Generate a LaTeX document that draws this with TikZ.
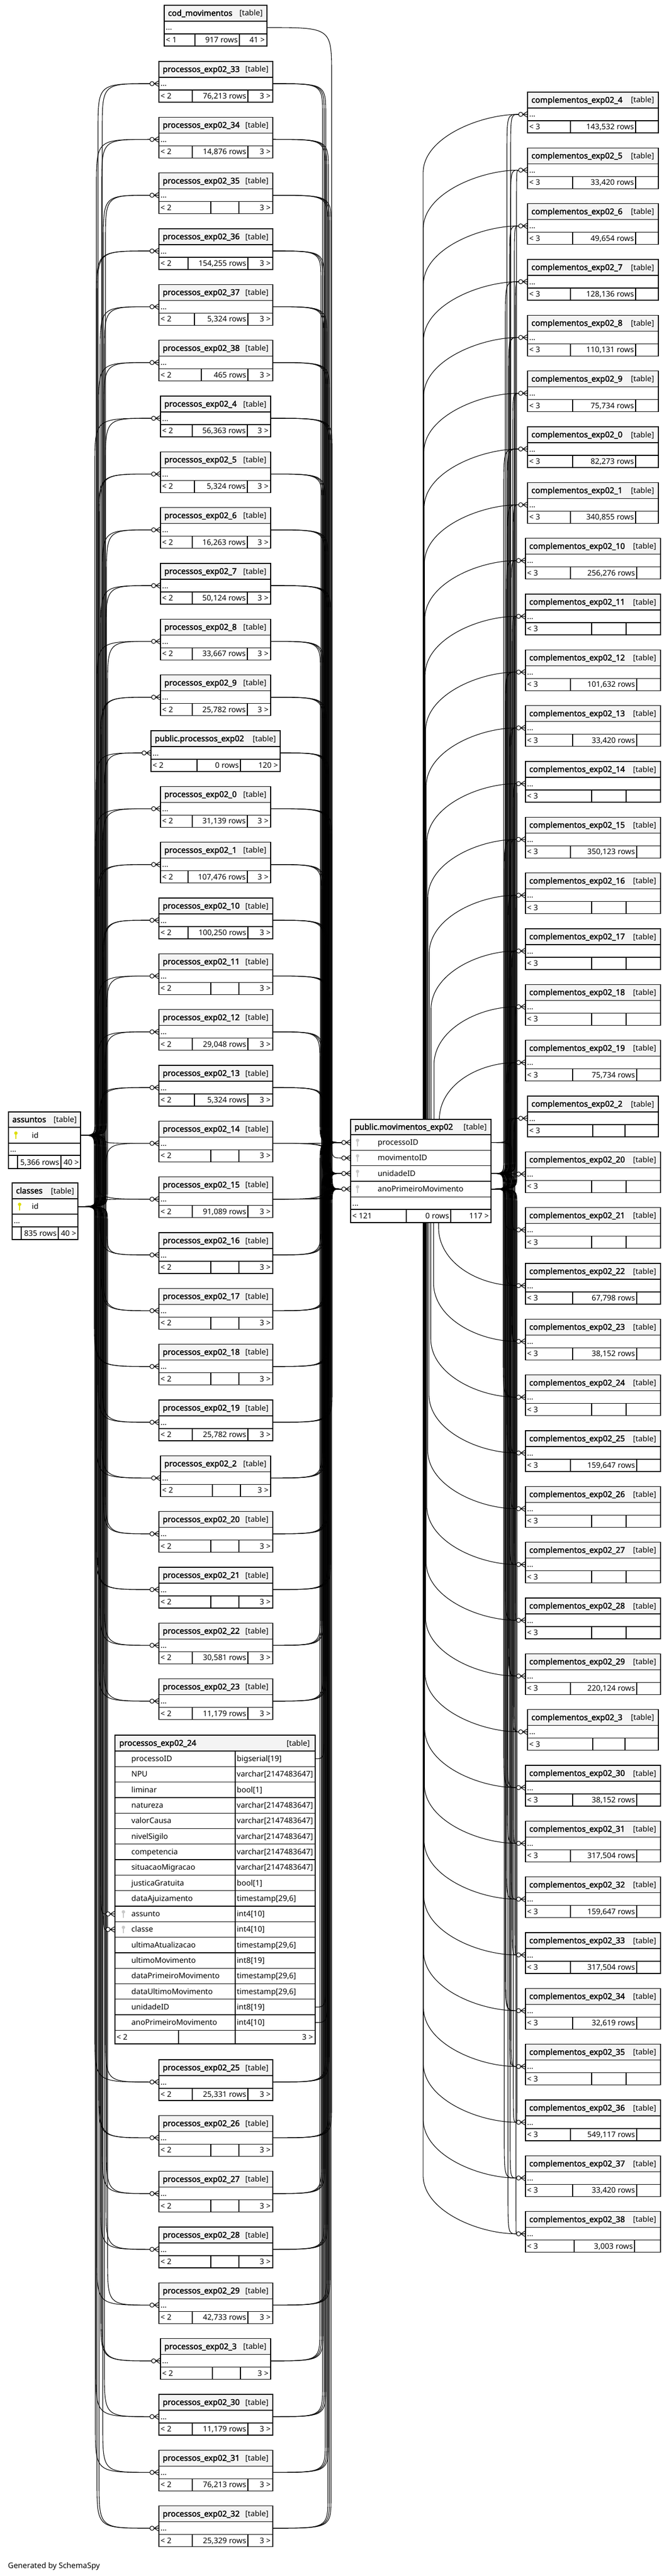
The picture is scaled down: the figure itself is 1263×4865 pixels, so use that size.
\documentclass[tikz,border=0pt]{standalone}
\usepackage{fontspec}
\setmainfont{Noto Sans}
\newfontfamily\ttlfont{Noto Sans}[FakeBold=2.2]
\usetikzlibrary{calc}
\pgfdeclarelayer{bg}
\pgfsetlayers{bg,main}
\definecolor{hdrgray}{RGB}{244,244,244}
\definecolor{pkyellow}{RGB}{222,222,0}
\definecolor{fkgray}{RGB}{200,200,200}
\tikzset{
  tb/.style={line width=1.3pt},
  thickb/.style={line width=2.6pt},
  edge/.style={line width=1.1pt},
  txt/.style={inner sep=0pt, font=\fontsize{14.5}{16}\selectfont},
  ttl/.style={inner sep=0pt, font=\ttlfont\fontsize{15.2}{17}\selectfont},
  slot/.style={inner sep=0pt, outer sep=0pt, minimum height=24pt},
  rowslot/.style={inner sep=0pt, outer sep=0pt, minimum height=29.3pt},
}
\newcommand\gtab[9]{\def\gn{#1}\def\gxl{#2}\def\gxr{#3}\def\gtop{#4}\def\gtitle{#5}\def\gleft{#6}\def\gmid{#7}\def\gright{#8}\def\gda{#9}\gtabfinish}
\newcommand\gtabfinish[1]{%
  \pgfmathsetmacro\gw{\gxr-\gxl}%
  \fill[white] (\gxl,\gtop) rectangle (\gxr,\gtop+77);
  \fill[hdrgray] (\gxl,\gtop) rectangle (\gxr,\gtop+30);
  \node[ttl, anchor=base west] (\gn-title) at (\gxl+7,\gtop+20) {\gtitle};
  \node[txt, anchor=base east] (\gn-tag) at (\gxr-8,\gtop+20) {[table]};
  \node[slot, minimum width=\gw pt, anchor=north west] (\gn) at (\gxl,\gtop+30) {};
  \node[txt, anchor=base west] (\gn-dots) at (\gxl+3,\gtop+47) {...};
  \node[txt, anchor=base west] (\gn-fl) at (\gxl+3,\gtop+70.5) {\gleft};
  \node[txt, anchor=base east] (\gn-fm) at (#1-3,\gtop+70.5) {\gmid};
  \node[txt, anchor=base east] (\gn-fr) at (\gxr-4,\gtop+70.5) {\gright};
  \draw[tb] (\gxl,\gtop+30) -- (\gxr,\gtop+30) (\gxl,\gtop+54) -- (\gxr,\gtop+54)
            (\gda,\gtop+54) -- (\gda,\gtop+77) (#1,\gtop+54) -- (#1,\gtop+77);
  \draw[tb] (\gxl,\gtop) rectangle (\gxr,\gtop+77);
}
\newcommand\ptab[8]{\gtab{#1}{#2}{#3}{#4}{#5}{< 2}{#6}{3 >}{#7}{#8}}
\newcommand\ctab[8]{\gtab{#1}{#2}{#3}{#4}{#5}{< 3}{#6}{}{#7}{#8}}
\newcommand\keyic[3]{\fill[#3] (#1,#2-4) circle (3.2pt); \fill[#3] (#1-1,#2-4) rectangle (#1+1,#2+7);}
\newcommand\crow[1]{%
  \draw[edge] ($(#1)+(-9,0)$) -- ($(#1)+(-1,-5)$) ($(#1)+(-9,0)$) -- ($(#1)+(-1,0)$) ($(#1)+(-9,0)$) -- ($(#1)+(-1,5)$);
  \draw[edge,fill=white] ($(#1)+(-13,0)$) circle (4pt);
}
% connector through a vertical lane: #1 from, #2 to, #3 lane x, #4 start radius, #5 end radius
\newcommand\lane[5]{%
  \draw[edge, shorten >=17pt] let \p1=(#1), \p2=(#2),
    \n1={ifthenelse(\y2<\y1,-1,1)},
    \n2={\n1*min(#4,abs(\y2-\y1)/2)},
    \n3={\n1*min(#5,abs(\y2-\y1)/2)} in
    (\p1) .. controls ({#3pt},\y1) .. ({#3pt},{\y1+\n2}) -- ({#3pt},{\y2-\n3}) .. controls ({#3pt},\y2) .. (\p2);}
% connector leaving movimentos through top or bottom: #1 target, #2 north/south
\newcommand\vconn[2]{%
  \draw[edge, shorten >=17pt] let \p1=(mv.#2), \p2=(#1.west),
    \n1={abs(\y2-\y1)},
    \n2={\x1+60*150/(\n1+150)},
    \n4={ifthenelse(\y2>\y1,1,-1)},
    \n3={\y2-\n4*min(110,\n1)} in
    ({\n2},\y1) -- ({\n2},\n3) .. controls ({\n2},{\n3+0.6*(\y2-\n3)}) and ({\x2-90},\y2) .. (\p2);}
\begin{document}
\begin{tikzpicture}[x=1pt,y=-1pt]
\useasboundingbox (0,0) rectangle (1263,4865);

% ---------- cod_movimentos
\gtab{cod}{310}{504}{10}{cod\_movimentos}{< 1}{917 rows}{41 >}{368}{452}

% ---------- left column
\ptab{p33}{300}{515}{116}{processos\_exp02\_33}{76,213 rows}{363}{468}
\ptab{p34}{300}{515}{221.3}{processos\_exp02\_34}{14,876 rows}{363}{468}
\ptab{p35}{300}{515}{326.7}{processos\_exp02\_35}{}{398}{451}
\ptab{p36}{300}{515}{432}{processos\_exp02\_36}{154,255 rows}{355}{468}
\ptab{p37}{300}{515}{537.3}{processos\_exp02\_37}{5,324 rows}{367}{468}
\ptab{p38}{300}{515}{642.7}{processos\_exp02\_38}{465 rows}{380}{468}
\ptab{p4}{303}{511}{748}{processos\_exp02\_4}{56,363 rows}{363}{467}
\ptab{p5}{303}{511}{853.3}{processos\_exp02\_5}{5,324 rows}{367}{467}
\ptab{p6}{303}{511}{958.7}{processos\_exp02\_6}{16,263 rows}{363}{467}
\ptab{p7}{303}{511}{1064}{processos\_exp02\_7}{50,124 rows}{363}{467}
\ptab{p8}{303}{511}{1169.3}{processos\_exp02\_8}{33,667 rows}{363}{467}
\ptab{p9}{303}{511}{1274.7}{processos\_exp02\_9}{25,782 rows}{363}{467}
\gtab{ppub}{285}{529}{1380}{public.processos\_exp02}{< 2}{0 rows}{120 >}{372}{454}
\ptab{p0}{303}{511}{1485.3}{processos\_exp02\_0}{31,139 rows}{363}{467}
\ptab{p1}{303}{511}{1590.7}{processos\_exp02\_1}{107,476 rows}{355}{467}
\ptab{p10}{300}{515}{1696}{processos\_exp02\_10}{100,250 rows}{355}{468}
\ptab{p11}{300}{515}{1801.3}{processos\_exp02\_11}{}{398}{451}
\ptab{p12}{300}{515}{1906.7}{processos\_exp02\_12}{29,048 rows}{363}{468}
\ptab{p13}{300}{515}{2012}{processos\_exp02\_13}{5,324 rows}{367}{468}
\ptab{p14}{300}{515}{2117.3}{processos\_exp02\_14}{}{398}{451}
\ptab{p15}{300}{515}{2222.7}{processos\_exp02\_15}{91,089 rows}{363}{468}
\ptab{p16}{300}{515}{2328}{processos\_exp02\_16}{}{398}{451}
\ptab{p17}{300}{515}{2433.3}{processos\_exp02\_17}{}{398}{451}
\ptab{p18}{300}{515}{2538.7}{processos\_exp02\_18}{}{398}{451}
\ptab{p19}{300}{515}{2644}{processos\_exp02\_19}{25,782 rows}{363}{468}
\ptab{p2}{303}{511}{2749.3}{processos\_exp02\_2}{}{401}{454}
\ptab{p20}{300}{515}{2854.7}{processos\_exp02\_20}{}{398}{451}
\ptab{p21}{300}{515}{2960}{processos\_exp02\_21}{}{398}{451}
\ptab{p22}{300}{515}{3065.3}{processos\_exp02\_22}{30,581 rows}{363}{468}
\ptab{p23}{300}{515}{3170.7}{processos\_exp02\_23}{11,179 rows}{363}{468}
\ptab{p25}{300}{515}{3890}{processos\_exp02\_25}{25,331 rows}{363}{468}
\ptab{p26}{300}{515}{3995.3}{processos\_exp02\_26}{}{398}{451}
\ptab{p27}{300}{515}{4100.7}{processos\_exp02\_27}{}{398}{451}
\ptab{p28}{300}{515}{4206}{processos\_exp02\_28}{}{398}{451}
\ptab{p29}{300}{515}{4311.3}{processos\_exp02\_29}{42,733 rows}{363}{468}
\ptab{p3}{303}{511}{4416.7}{processos\_exp02\_3}{}{401}{454}
\ptab{p30}{300}{515}{4522}{processos\_exp02\_30}{11,179 rows}{363}{468}
\ptab{p31}{300}{515}{4627.3}{processos\_exp02\_31}{76,213 rows}{363}{468}
\ptab{p32}{300}{515}{4732.7}{processos\_exp02\_32}{25,329 rows}{363}{468}

% ---------- big table processos_exp02_24
\fill[white] (217,3277) rectangle (595,3860);
\fill[hdrgray] (217,3277) rectangle (595,3307);
\node[ttl, anchor=base west] (b-title) at (225,3297) {processos\_exp02\_24};
\node[txt, anchor=base east] (b-tag) at (585,3297) {[table]};
\foreach \k/\nm/\ty in {0/processoID/bigserial[19], 1/NPU/varchar[2147483647], 2/liminar/bool[1],
  3/natureza/varchar[2147483647], 4/valorCausa/varchar[2147483647], 5/nivelSigilo/varchar[2147483647],
  6/competencia/varchar[2147483647], 7/situacaoMigracao/varchar[2147483647], 8/justicaGratuita/bool[1],
  9/dataAjuizamento/{timestamp[29,6]}, 10/assunto/int4[10], 11/classe/int4[10],
  12/ultimaAtualizacao/{timestamp[29,6]}, 13/ultimoMovimento/int8[19], 14/dataPrimeiroMovimento/{timestamp[29,6]},
  15/dataUltimoMovimento/{timestamp[29,6]}, 16/unidadeID/int8[19], 17/anoPrimeiroMovimento/int4[10]} {
  \node[rowslot, minimum width=378pt, anchor=north west] (b-\k) at (217,{3307+29.3*\k}) {};
  \node[txt, anchor=base west] (b-\k-n) at (248,{3307+29.3*\k+19.65}) {\nm};
  \node[txt, anchor=base west] (b-\k-t) at (447,{3307+29.3*\k+19.65}) {\ty};
  \draw[tb] (217,{3307+29.3*\k}) -- (595,{3307+29.3*\k});
}
\keyic{233}{3614.65}{fkgray}
\keyic{233}{3643.95}{fkgray}
\draw[tb] (444,3307) -- (444,3860) (217,3834.4) -- (595,3834.4) (337,3834.4) -- (337,3860);
\node[txt, anchor=base west] (b-fl) at (220,3852) {< 2};
\node[txt, anchor=base east] (b-fr) at (591,3852) {3 >};
\draw[thickb] (217,3277) rectangle (595,3860);

% ---------- assuntos
\fill[white] (16,2100) rectangle (152,2207);
\fill[hdrgray] (16,2100) rectangle (152,2129);
\node[ttl, anchor=base west] (as-title) at (23,2119.5) {assuntos};
\node[txt, anchor=base east] (as-tag) at (145,2119.5) {[table]};
\node[rowslot, minimum width=136pt, minimum height=30pt, anchor=north west] (as-id) at (16,2129) {};
\keyic{30}{2144}{pkyellow}
\node[txt, anchor=base west] (as-idt) at (60,2149) {id};
\node[txt, anchor=base west] (as-dots) at (19,2175.5) {...};
\node[txt, anchor=base east] (as-fm) at (112,2200) {5,366 rows};
\node[txt, anchor=base east] (as-fr) at (149,2200) {40 >};
\draw[tb] (16,2129) -- (152,2129) (16,2159) -- (152,2159) (16,2182) -- (152,2182)
  (33,2182) -- (33,2207) (115,2182) -- (115,2207);
\draw[tb] (16,2100) rectangle (152,2207);

% ---------- classes
\fill[white] (23,2234) rectangle (147,2341);
\fill[hdrgray] (23,2234) rectangle (147,2264);
\node[ttl, anchor=base west] (cl-title) at (30,2254) {classes};
\node[txt, anchor=base east] (cl-tag) at (140,2254) {[table]};
\node[rowslot, minimum width=124pt, anchor=north west] (cl-id) at (23,2264) {};
\keyic{37}{2278.5}{pkyellow}
\node[txt, anchor=base west] (cl-idt) at (60,2283.5) {id};
\node[txt, anchor=base west] (cl-dots) at (26,2310) {...};
\node[txt, anchor=base east] (cl-fm) at (107,2334) {835 rows};
\node[txt, anchor=base east] (cl-fr) at (144,2334) {40 >};
\draw[tb] (23,2264) -- (147,2264) (23,2293) -- (147,2293) (23,2317) -- (147,2317)
  (40,2317) -- (40,2341) (110,2317) -- (110,2341);
\draw[tb] (23,2234) rectangle (147,2341);

% ---------- public.movimentos_exp02
\node[inner sep=0pt, outer sep=0pt, minimum width=265pt, minimum height=195pt, anchor=north west] (mv) at (662,2114) {};
\fill[white] (662,2114) rectangle (927,2309);
\fill[hdrgray] (662,2114) rectangle (927,2143);
\node[ttl, anchor=base west] (mv-title) at (669,2133.5) {public.movimentos\_exp02};
\node[txt, anchor=base east] (mv-tag) at (919,2133.5) {[table]};
\foreach \k/\nm in {0/processoID,1/movimentoID,2/unidadeID,3/anoPrimeiroMovimento} {
  \node[rowslot, minimum width=265pt, anchor=north west] (mv-\k) at (662,{2143+29.3*\k}) {};
  \node[txt, anchor=base west] (mv-\k-n) at (713,{2143+29.3*\k+19.65}) {\nm};
  \keyic{675}{2143+29.3*\k+14.65}{fkgray}
  \draw[tb] (662,{2143+29.3*\k}) -- (927,{2143+29.3*\k});
}
\draw[tb] (662,2260.2) -- (927,2260.2) (662,2284) -- (927,2284) (767,2284) -- (767,2309) (851,2284) -- (851,2309);
\node[txt, anchor=base west] (mv-dots) at (665,2277) {...};
\node[txt, anchor=base west] (mv-fl) at (665,2301.5) {< 121};
\node[txt, anchor=base east] (mv-fm) at (848,2301.5) {0 rows};
\node[txt, anchor=base east] (mv-fr) at (923,2301.5) {117 >};
\draw[tb] (662,2114) rectangle (927,2309);

% ---------- right column
\ctab{c4}{996}{1243}{174}{complementos\_exp02\_4}{143,532 rows}{1077}{1200}
\ctab{c5}{996}{1243}{279.3}{complementos\_exp02\_5}{33,420 rows}{1081}{1200}
\ctab{c6}{996}{1243}{384.7}{complementos\_exp02\_6}{49,654 rows}{1081}{1200}
\ctab{c7}{996}{1243}{490}{complementos\_exp02\_7}{128,136 rows}{1077}{1200}
\ctab{c8}{996}{1243}{595.3}{complementos\_exp02\_8}{110,131 rows}{1077}{1200}
\ctab{c9}{996}{1243}{700.7}{complementos\_exp02\_9}{75,734 rows}{1081}{1200}
\ctab{c0}{996}{1243}{806}{complementos\_exp02\_0}{82,273 rows}{1081}{1200}
\ctab{c1}{996}{1243}{911.3}{complementos\_exp02\_1}{340,855 rows}{1077}{1200}
\ctab{c10}{992}{1247}{1016.7}{complementos\_exp02\_10}{256,276 rows}{1077}{1202}
\ctab{c11}{992}{1247}{1122}{complementos\_exp02\_11}{}{1117}{1182}
\ctab{c12}{992}{1247}{1227.3}{complementos\_exp02\_12}{101,632 rows}{1077}{1202}
\ctab{c13}{992}{1247}{1332.7}{complementos\_exp02\_13}{33,420 rows}{1081}{1202}
\ctab{c14}{992}{1247}{1438}{complementos\_exp02\_14}{}{1117}{1182}
\ctab{c15}{992}{1247}{1543.3}{complementos\_exp02\_15}{350,123 rows}{1077}{1202}
\ctab{c16}{992}{1247}{1648.7}{complementos\_exp02\_16}{}{1117}{1182}
\ctab{c17}{992}{1247}{1754}{complementos\_exp02\_17}{}{1117}{1182}
\ctab{c18}{992}{1247}{1859.3}{complementos\_exp02\_18}{}{1117}{1182}
\ctab{c19}{992}{1247}{1964.7}{complementos\_exp02\_19}{75,734 rows}{1081}{1202}
\ctab{c2}{996}{1243}{2070}{complementos\_exp02\_2}{}{1119}{1180}
\ctab{c20}{992}{1247}{2175.3}{complementos\_exp02\_20}{}{1117}{1182}
\ctab{c21}{992}{1247}{2280.7}{complementos\_exp02\_21}{}{1117}{1182}
\ctab{c22}{992}{1247}{2386}{complementos\_exp02\_22}{67,798 rows}{1081}{1202}
\ctab{c23}{992}{1247}{2491.3}{complementos\_exp02\_23}{38,152 rows}{1081}{1202}
\ctab{c24}{992}{1247}{2596.7}{complementos\_exp02\_24}{}{1117}{1182}
\ctab{c25}{992}{1247}{2702}{complementos\_exp02\_25}{159,647 rows}{1077}{1202}
\ctab{c26}{992}{1247}{2807.3}{complementos\_exp02\_26}{}{1117}{1182}
\ctab{c27}{992}{1247}{2912.7}{complementos\_exp02\_27}{}{1117}{1182}
\ctab{c28}{992}{1247}{3018}{complementos\_exp02\_28}{}{1117}{1182}
\ctab{c29}{992}{1247}{3123.3}{complementos\_exp02\_29}{220,124 rows}{1077}{1202}
\ctab{c3}{996}{1243}{3228.7}{complementos\_exp02\_3}{}{1119}{1180}
\ctab{c30}{992}{1247}{3334}{complementos\_exp02\_30}{38,152 rows}{1081}{1202}
\ctab{c31}{992}{1247}{3439.3}{complementos\_exp02\_31}{317,504 rows}{1077}{1202}
\ctab{c32}{992}{1247}{3544.7}{complementos\_exp02\_32}{159,647 rows}{1077}{1202}
\ctab{c33}{992}{1247}{3650}{complementos\_exp02\_33}{317,504 rows}{1077}{1202}
\ctab{c34}{992}{1247}{3755.3}{complementos\_exp02\_34}{32,619 rows}{1081}{1202}
\ctab{c35}{992}{1247}{3860.7}{complementos\_exp02\_35}{}{1117}{1182}
\ctab{c36}{992}{1247}{3966}{complementos\_exp02\_36}{549,117 rows}{1077}{1202}
\ctab{c37}{992}{1247}{4071.3}{complementos\_exp02\_37}{33,420 rows}{1081}{1202}
\ctab{c38}{992}{1247}{4176.7}{complementos\_exp02\_38}{3,003 rows}{1084}{1198}

\node[txt, anchor=base west] (gen) at (15,4850) {Generated by SchemaSpy};

% ---------- connectors
\begin{pgfonlayer}{bg}
\foreach \t [count=\i] in {p33,p34,p35,p36,p37,p38,p4,p5,p6,p7,p8,p9,ppub,p0,p1,p10,p11,p12,p13,p14,p15,p16,p17,p18,p19,p2,p20,p21,p22,p23,p25,p26,p27,p28,p29,p3,p30,p31,p32} {
  \pgfmathtruncatemacro\la{178+mod(\i*7,24)}
  \pgfmathtruncatemacro\lb{180+mod(\i*13,24)}
  \pgfmathtruncatemacro\lc{604+mod(\i*5,18)}
  \lane{as-id.east}{\t.west}{\la}{30}{90}
  \lane{cl-id.east}{\t.west}{\lb}{30}{90}
  \lane{\t.east}{mv-0.west}{\lc}{60}{40}
  \lane{\t.east}{mv-2.west}{\lc+3}{60}{40}
  \lane{\t.east}{mv-3.west}{\lc+6}{60}{40}
}
\lane{as-id.east}{b-10.west}{190}{30}{90}
\lane{cl-id.east}{b-11.west}{195}{30}{90}
\lane{b-0.east}{mv-0.west}{612}{60}{40}
\lane{b-16.east}{mv-2.west}{615}{60}{40}
\lane{b-17.east}{mv-3.west}{618}{60}{40}
\lane{cod.east}{mv-1.west}{626}{90}{40}
\foreach \c [count=\i] in {c4,c5,c6,c7,c8,c9,c0,c1,c10,c11,c12,c13,c14,c15,c16,c17,c18,c19,c2,c20,c21,c22,c23,c24,c25,c26,c27,c28,c29,c3,c30,c31,c32,c33,c34,c35,c36,c37,c38} {
  \pgfmathtruncatemacro\la{950+mod(\i*7,24)}
  \pgfmathtruncatemacro\lb{953+mod(\i*11,24)}
  \lane{mv-2.east}{\c.west}{\la}{30}{80}
  \lane{mv-3.east}{\c.west}{\lb}{30}{80}
}
\foreach \c in {c4,c5,c6,c7,c8,c9,c0,c1,c10,c11,c12,c13,c14,c15,c16,c17,c18,c19} {
  \vconn{\c}{north}
}
\foreach \c in {c22,c23,c24,c25,c26,c27,c28,c29,c3,c30,c31,c32,c33,c34,c35,c36,c37,c38} {
  \vconn{\c}{south}
}
\lane{mv-0.east}{c2.west}{958}{20}{40}
\lane{mv-0.east}{c20.west}{962}{20}{40}
\lane{mv-0.east}{c21.west}{966}{20}{60}
\end{pgfonlayer}

% ---------- crow's feet
\foreach \t in {p33,p34,p35,p36,p37,p38,p4,p5,p6,p7,p8,p9,ppub,p0,p1,p10,p11,p12,p13,p14,p15,p16,p17,p18,p19,p2,p20,p21,p22,p23,p25,p26,p27,p28,p29,p3,p30,p31,p32,b-10,b-11,mv-0,mv-1,mv-2,mv-3,c4,c5,c6,c7,c8,c9,c0,c1,c10,c11,c12,c13,c14,c15,c16,c17,c18,c19,c2,c20,c21,c22,c23,c24,c25,c26,c27,c28,c29,c3,c30,c31,c32,c33,c34,c35,c36,c37,c38} {
  \crow{\t.west}
}
\end{tikzpicture}
\end{document}
